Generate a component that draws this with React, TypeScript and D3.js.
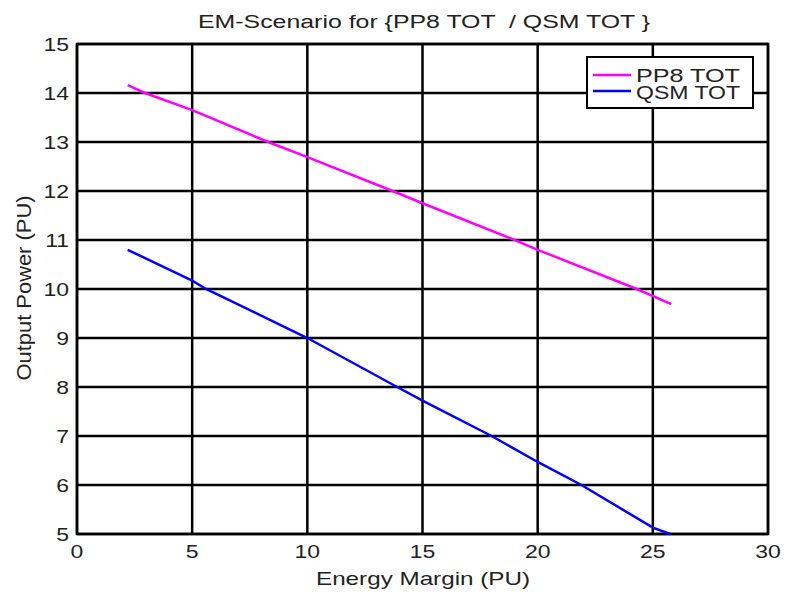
import React from 'react';
import * as d3 from 'd3';

const chartTitle = 'EM-Scenario for {PP8 TOT  / QSM TOT }';
const xTitle = 'Energy Margin (PU)';
const yTitle = 'Output Power (PU)';

const xTicks = [0, 5, 10, 15, 20, 25, 30];
const yTicks = [5, 6, 7, 8, 9, 10, 11, 12, 13, 14, 15];

const pp8X = [2.2, 2.95, 5, 8.3, 10, 13.7, 15, 19, 20, 24.3, 25.8];
const pp8Y = [14.16, 14, 13.65, 13, 12.69, 12, 11.75, 11, 10.8, 10, 9.69];

const qsmX = [2.2, 5, 5.6, 10, 13.9, 15, 18, 20, 21.9, 25, 25.75];
const qsmY = [10.8, 10.17, 10, 9, 8, 7.72, 7, 6.47, 6, 5.13, 5.0];

const seriesNames = ['PP8 TOT', 'QSM TOT'];
const seriesColors = ['#ff00ff', '#0000ff'];

const W = 787;
const H = 598;
const left = 77;
const right = 768;
const top = 44;
const bottom = 534;

const font = 'Arial, "Liberation Sans", Helvetica, sans-serif';

export default function App() {
  const x = d3.scaleLinear().domain([0, 30]).range([left, right]);
  const y = d3.scaleLinear().domain([5, 15]).range([bottom, top]);

  const line = d3.line<[number, number]>()
    .x(d => x(d[0]))
    .y(d => y(d[1]));

  const series = [
    pp8X.map((v, i) => [v, pp8Y[i]] as [number, number]),
    qsmX.map((v, i) => [v, qsmY[i]] as [number, number]),
  ];

  // horizontal text in the original looks squashed vertically
  const squash = (tx: number, ty: number) => `translate(${tx},${ty}) scale(1,0.8)`;

  return (
    <svg width={W} height={H} style={{ position: 'absolute', left: 0, top: 0, background: '#fff' }}>
      <rect x={0} y={0} width={W} height={H} fill="#fff" />

      {/* grid */}
      {xTicks.map(t => (
        <line key={'gx' + t} x1={x(t)} x2={x(t)} y1={top} y2={bottom} stroke="#000" strokeWidth={2.5} />
      ))}
      {yTicks.map(t => (
        <line key={'gy' + t} x1={left} x2={right} y1={y(t)} y2={y(t)} stroke="#000" strokeWidth={2.5} />
      ))}
      <rect x={left} y={top} width={right - left} height={bottom - top} fill="none" stroke="#000" strokeWidth={2.5} />

      {/* series */}
      {series.map((s, i) => (
        <path key={seriesNames[i]} d={line(s) || ''} fill="none" stroke={seriesColors[i]} strokeWidth={2.5} />
      ))}

      {/* tick labels */}
      {xTicks.map(t => (
        <text key={'lx' + t} transform={squash(x(t), 558)} textAnchor="middle" fontFamily={font} fontSize={23} fill="#222">
          {t}
        </text>
      ))}
      {yTicks.map(t => (
        <text key={'ly' + t} transform={squash(69, y(t) + 6.5)} textAnchor="end" fontFamily={font} fontSize={23} fill="#222">
          {t}
        </text>
      ))}

      {/* titles */}
      <text transform={squash(424, 28)} textAnchor="middle" fontFamily={font} fontSize={22} fill="#222"
        textLength={452} lengthAdjust="spacingAndGlyphs" style={{ whiteSpace: 'pre' }}>
        {chartTitle}
      </text>
      <text transform={squash(423, 585)} textAnchor="middle" fontFamily={font} fontSize={23} fill="#222"
        textLength={214} lengthAdjust="spacingAndGlyphs">
        {xTitle}
      </text>
      <text transform={`translate(31,${(top + bottom) / 2 - 1}) rotate(-90)`} textAnchor="middle" fontFamily={font} fontSize={21} fill="#222"
        textLength={185} lengthAdjust="spacingAndGlyphs">
        {yTitle}
      </text>

      {/* legend */}
      <rect x={587} y={57} width={166} height={51} fill="#fff" stroke="#000" strokeWidth={2} />
      {seriesNames.map((name, i) => (
        <g key={'leg' + name}>
          <line x1={593} x2={631} y1={75 + i * 16} y2={75 + i * 16} stroke={seriesColors[i]} strokeWidth={2.5} />
          <text transform={squash(636, 82 + i * 17)} fontFamily={font} fontSize={24} fill="#222"
            textLength={104} lengthAdjust="spacingAndGlyphs">
            {name}
          </text>
        </g>
      ))}
    </svg>
  );
}
